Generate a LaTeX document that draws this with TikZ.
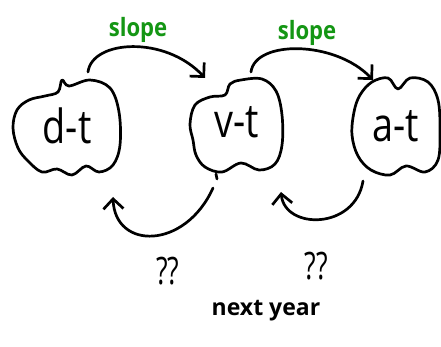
\documentclass[tikz,border=0pt]{standalone}
\usepackage{fontspec}
\setmainfont{Open Sans}
\usetikzlibrary{arrows.meta}
\definecolor{slopegreen}{RGB}{20,150,20}
\tikzset{
  ink/.style={line width=2.7pt, line cap=round, line join=round, black},
  cloudline/.style={ink},
  conn/.style={ink, -{Straight Barb[length=10pt,width=20pt,line width=2.7pt]}},
  bigtext/.style={font=\fontsize{42}{42}\selectfont, inner sep=0pt},
  slopetext/.style={font=\fontsize{24}{24}\selectfont\fontseries{sb}\selectfont, text=slopegreen, inner sep=0pt},
  qtext/.style={font=\fontsize{36}{36}\selectfont, inner sep=0pt},
  smalltext/.style={font=\fontsize{23}{23}\selectfont\fontseries{sb}\selectfont, inner sep=0pt},
}
\begin{document}
\begin{tikzpicture}[x=1pt,y=-1pt]
\useasboundingbox (0,0) rectangle (441,347);
\fill[white] (0,0) rectangle (441,347);

% clouds
\draw[cloudline] plot[smooth cycle, tension=0.6] coordinates {
 (58,92) (62,80) (69,86) (90,80) (110,88) (119,112) (120,145) (113,165) (99,172) (86,166) (72,175) (57,169) (42,172) (28,161) (18,148) (13,128) (17,110) (29,100) (45,96)};
\draw[cloudline] plot[smooth cycle, tension=0.6] coordinates {
 (225,95) (230,84) (241,80) (262,79) (276,91) (282,115) (282,145) (275,164) (259,170) (241,163) (222,172) (205,167) (196,155) (193,140) (190,124) (195,105) (210,97)};
\draw[cloudline] plot[smooth cycle, tension=0.6] coordinates {
 (360,95) (372,82) (388,78) (398,89) (410,78) (428,82) (438,100) (440,130) (438,160) (425,172) (406,166) (390,175) (371,170) (358,156) (352,135) (354,112)};

% labels
\node[bigtext] (dt) at (67,126) {\scalebox{0.9}[1.12]{d-t}};
\node[bigtext] (vt) at (237,122) {\scalebox{0.9}[1.12]{v-t}};
\node[bigtext] (at) at (396,126) {\scalebox{0.9}[1.12]{a-t}};

% connector end points
\coordinate (s1) at (88,72);
\coordinate (e1) at (205,78);
\coordinate (s2) at (251,72);
\coordinate (e2) at (373,80);
\coordinate (s3) at (213,188);
\coordinate (e3) at (113,197);
\coordinate (s4) at (363,181);
\coordinate (e4) at (281,192);

\draw[conn] (s1) .. controls (92,40) and (165,35) .. (e1);
\draw[conn] (s2) .. controls (255,40) and (335,40) .. (e2);
\draw[conn] (s3) .. controls (185,250) and (115,250) .. (e3);
\draw[conn] (s4) .. controls (355,230) and (285,230) .. (e4);

\coordinate (m1) at (216,174);
\coordinate (m2) at (217,179);
\draw[ink] (m1) -- (m2);

\node[slopetext] (sl1) at (138,30) {\scalebox{0.92}[1.05]{slope}};
\node[slopetext] (sl2) at (307,33) {\scalebox{0.92}[1.05]{slope}};
\node[qtext] (q1) at (168,271) {\scalebox{0.75}[1.05]{??}};
\node[qtext] (q2) at (316,266) {\scalebox{0.75}[1.05]{??}};
\node[smalltext] (ny) at (266,311) {next year};
\end{tikzpicture}
\end{document}
